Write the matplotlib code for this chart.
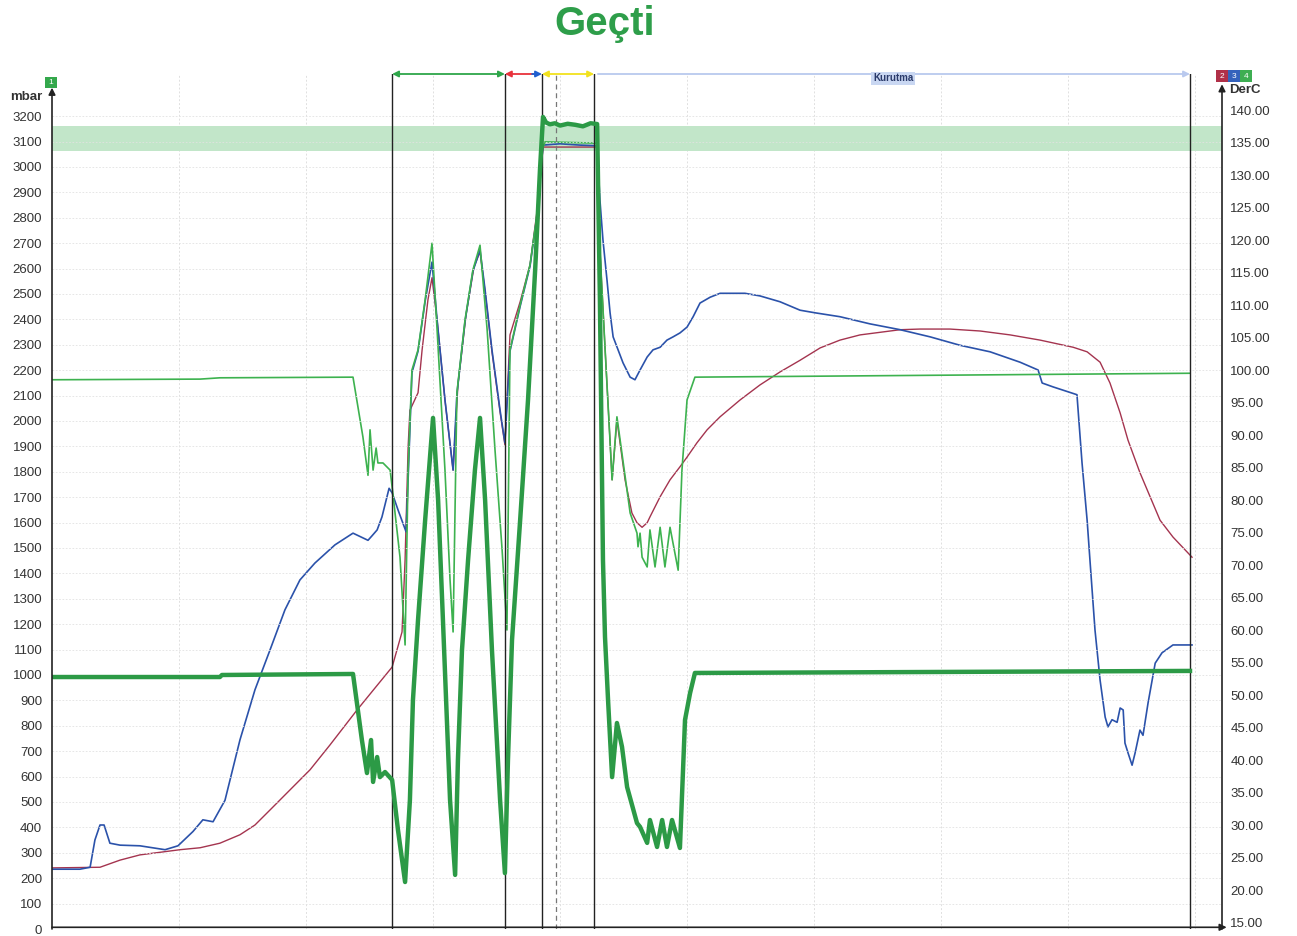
import matplotlib
matplotlib.use('Agg')
import matplotlib.pyplot as plt
import matplotlib.transforms as mtransforms
from matplotlib.patches import Rectangle
import numpy as np

plt.rcParams['font.family'] = ['Liberation Sans', 'DejaVu Sans']

# time in minutes, channel 1 pressure (mbar), channels 2-4 temperature (DerC)
pressure_1 = [(0.0, 992), (6.61, 992), (6.69, 1000), (11.85, 1004), (12.20, 744), (12.40, 614),
              (12.56, 744), (12.64, 579), (12.80, 677), (12.91, 598), (13.11, 618), (13.39, 587),
              (13.62, 390), (13.90, 185), (14.09, 508), (14.21, 902), (14.41, 1217), (14.69, 1610),
              (15.00, 2012), (15.20, 1689), (15.39, 1217), (15.67, 508), (15.87, 213), (15.98, 665),
              (16.14, 1098), (16.38, 1453), (16.65, 1807), (16.85, 2012), (17.05, 1689), (17.32, 1098),
              (17.64, 508), (17.83, 220), (17.95, 665), (18.11, 1138), (18.43, 1610), (18.74, 2083),
              (19.02, 2594), (19.21, 2988), (19.33, 3197), (19.45, 3175), (19.60, 3168), (19.80, 3172),
              (20.00, 3163), (20.30, 3170), (20.60, 3166), (20.90, 3160), (21.20, 3172), (21.46, 3169),
              (21.57, 2476), (21.69, 1453), (21.77, 1150), (21.89, 902), (22.05, 598), (22.24, 811),
              (22.44, 717), (22.64, 559), (23.03, 417), (23.15, 402), (23.43, 339), (23.54, 429),
              (23.82, 323), (24.02, 429), (24.21, 323), (24.41, 429), (24.72, 319), (24.92, 823),
              (25.12, 929), (25.31, 1008), (44.80, 1016)]

temp_2 = [(0.0, 23.4), (1.89, 23.5), (2.68, 24.6), (3.46, 25.4), (4.25, 25.8), (5.04, 26.2),
          (5.83, 26.5), (6.61, 27.2), (7.40, 28.5), (7.99, 30.0), (8.58, 32.3), (9.37, 35.4),
          (10.16, 38.5), (10.94, 42.3), (12.01, 47.7), (12.72, 51.1), (13.39, 54.3), (13.78, 59.7),
          (13.90, 70.8), (14.02, 88.2), (14.09, 93.8), (14.41, 96.5), (14.57, 103.1), (14.80, 110.8),
          (14.96, 114.2), (15.16, 107.7), (15.47, 95.4), (15.79, 84.6), (15.98, 97.7), (16.30, 108.5),
          (16.61, 115.8), (16.85, 118.2), (17.05, 112.0), (17.32, 102.8), (17.64, 93.5), (17.83, 88.5),
          (18.03, 105.4), (18.43, 110.5), (18.82, 116.2), (19.09, 124.3), (19.33, 134.3), (21.46, 134.3),
          (21.57, 118.5), (21.77, 103.5), (22.05, 83.1), (22.24, 92.3), (22.56, 83.1), (22.83, 78.0),
          (23.03, 76.5), (23.23, 75.8), (23.43, 76.5), (23.54, 77.4), (23.94, 80.5), (24.33, 83.1),
          (24.72, 85.1), (25.00, 86.6), (25.39, 88.8), (25.79, 90.8), (26.30, 92.8), (27.09, 95.4),
          (27.87, 97.7), (28.66, 99.7), (29.45, 101.5), (30.24, 103.4), (31.02, 104.6), (31.81, 105.4),
          (32.60, 105.8), (33.39, 106.2), (34.17, 106.3), (35.35, 106.3), (36.54, 106.0), (37.72, 105.4),
          (38.90, 104.6), (40.20, 103.5), (40.75, 102.8), (41.26, 101.2), (41.65, 98.0), (42.05, 93.4),
          (42.36, 89.2), (42.83, 84.2), (43.23, 80.5), (43.62, 76.9), (44.13, 74.3), (44.88, 71.2)]

temp_3 = [(0.0, 23.2), (1.10, 23.2), (1.50, 23.5), (1.69, 27.7), (1.89, 30.0), (2.05, 30.0),
          (2.28, 27.2), (2.68, 26.9), (3.46, 26.8), (4.45, 26.2), (4.96, 26.8), (5.55, 29.0),
          (5.94, 30.8), (6.34, 30.5), (6.81, 33.8), (7.40, 43.1), (7.99, 50.8), (8.58, 56.9),
          (9.17, 63.1), (9.76, 67.7), (10.35, 70.3), (11.14, 73.1), (11.85, 74.9), (12.44, 73.8),
          (12.60, 74.5), (12.80, 75.4), (12.99, 77.4), (13.27, 81.8), (13.39, 81.1), (13.62, 78.5),
          (13.94, 75.1), (14.03, 84.3), (14.17, 99.6), (14.41, 102.9), (14.69, 110.6), (14.96, 116.6),
          (15.16, 107.7), (15.47, 95.4), (15.79, 84.6), (15.94, 96.3), (16.26, 107.5), (16.57, 115.2),
          (16.85, 118.5), (17.05, 112.3), (17.32, 103.1), (17.64, 93.8), (17.83, 88.8), (18.03, 102.9),
          (18.43, 109.8), (18.82, 116.0), (19.09, 123.6), (19.33, 134.6), (20.00, 134.8), (20.79, 134.6),
          (21.46, 134.5), (21.57, 126.2), (21.69, 120.0), (21.85, 113.8), (21.97, 108.8), (22.09, 105.1),
          (22.48, 101.1), (22.76, 98.9), (22.95, 98.5), (23.15, 100.0), (23.43, 102.0), (23.66, 103.1),
          (23.94, 103.5), (24.21, 104.6), (24.45, 105.1), (24.72, 105.7), (25.00, 106.6), (25.24, 108.2),
          (25.51, 110.3), (25.91, 111.2), (26.30, 111.8), (27.28, 111.8), (27.87, 111.4), (28.66, 110.5),
          (29.45, 109.2), (30.04, 108.8), (31.02, 108.2), (32.20, 107.1), (33.39, 106.2), (34.57, 105.1),
          (35.75, 103.8), (36.93, 102.8), (38.11, 101.2), (38.82, 100.0), (38.98, 98.0), (39.41, 97.4),
          (40.35, 96.2), (40.55, 85.7), (40.75, 76.9), (40.87, 70.3), (41.06, 60.0), (41.26, 52.3),
          (41.46, 46.6), (41.57, 45.1), (41.73, 46.2), (41.93, 45.8), (42.05, 48.0), (42.17, 47.7),
          (42.24, 42.6), (42.36, 41.1), (42.52, 39.2), (42.64, 41.1), (42.83, 44.6), (42.95, 43.8),
          (43.15, 48.8), (43.43, 54.9), (43.70, 56.5), (44.13, 57.7), (44.88, 57.7)]

temp_4 = [(0.0, 98.5), (5.83, 98.6), (6.61, 98.8), (11.85, 98.9), (12.24, 89.7), (12.44, 83.8),
          (12.52, 90.8), (12.64, 84.6), (12.76, 88.0), (12.83, 85.7), (13.03, 85.7), (13.31, 84.6),
          (13.39, 82.0), (13.70, 71.2), (13.90, 57.7), (14.02, 84.6), (14.17, 100.0), (14.41, 103.1),
          (14.69, 110.8), (14.96, 119.5), (15.16, 106.2), (15.47, 84.6), (15.67, 67.7), (15.79, 59.7),
          (15.94, 96.5), (16.26, 107.7), (16.57, 115.4), (16.85, 119.2), (17.13, 106.2), (17.44, 87.7),
          (17.72, 72.3), (17.91, 60.0), (18.03, 103.1), (18.43, 110.0), (18.82, 116.2), (19.09, 123.8),
          (19.29, 133.8), (19.41, 135.1), (21.46, 134.9), (21.57, 118.5), (21.77, 103.5), (22.05, 83.1),
          (22.24, 92.8), (22.76, 78.0), (23.03, 74.9), (23.07, 72.8), (23.15, 74.9), (23.23, 71.2),
          (23.43, 69.7), (23.54, 75.4), (23.74, 69.7), (23.94, 75.8), (24.13, 69.7), (24.33, 75.8),
          (24.65, 69.2), (24.80, 84.6), (25.00, 95.4), (25.31, 98.9), (44.80, 99.5)]

# phase boundaries (minutes) and labels
phase_lines = [13.39, 17.83, 19.29, 21.34, 44.80]
hold_mark = 19.84
phase_label = 'Kurutma'
band_low, band_high = 133.7, 137.6

press_ticks = list(range(0, 3300, 100))
temp_ticks = list(range(15, 145, 5))

C_THICK = '#2c9a46'
C_THIN = '#3db24f'
C_BLUE = '#2b52aa'
C_RED = '#a4344f'
TXT = '#333333'

W, H = 1297, 936
fig = plt.figure(figsize=(W / 100, H / 100), dpi=100)
fig.patch.set_facecolor('white')


def fx(px):
    return px / W


def fy(py):
    return 1 - py / H


ax2 = fig.add_axes([fx(52), fy(929), (1222 - 52) / W, (929 - 74) / H])
ax = ax2.twinx()
ax.yaxis.tick_left()
ax2.yaxis.tick_right()
ax.set_zorder(ax2.get_zorder() + 1)
ax.patch.set_visible(False)

ax.set_xlim(0, 46.06)
ax.set_ylim(0, 3366)
ax2.set_ylim(14.0, 145.54)

for a in (ax, ax2):
    for s in a.spines.values():
        s.set_visible(False)
    a.set_xticks([])
    a.tick_params(length=0, labelsize=9.5, colors=TXT)

ax.set_yticks(press_ticks)
ax.set_yticklabels([str(v) for v in press_ticks])
ax.tick_params(axis='y', pad=7)
ax2.set_yticks(temp_ticks)
ax2.set_yticklabels(['%.2f' % v for v in temp_ticks])
ax2.tick_params(axis='y', pad=6)

# faint grid
for v in press_ticks[1:]:
    ax.axhline(v, color='#e2e2e2', lw=0.6, ls=(0, (2, 2)), zorder=0)
for v in np.arange(5, 46, 5):
    ax2.axvline(v, color='#e0e0e0', lw=0.7, ls=(0, (2, 2)), zorder=0)

# sterilisation band
ax2.axhspan(band_low, band_high, color='#c2e6c9', lw=0, zorder=1)

# series
t, v = zip(*temp_2)
ax2.plot(t, v, color=C_RED, lw=1.0, zorder=3)
t, v = zip(*temp_3)
ax2.plot(t, v, color=C_BLUE, lw=1.2, zorder=4)
t, v = zip(*temp_4)
ax2.plot(t, v, color=C_THIN, lw=1.2, zorder=5)
t, v = zip(*pressure_1)
ax.plot(t, v, color=C_THICK, lw=3.2, zorder=3, solid_joinstyle='round')

# phase lines
for x in phase_lines:
    ax.axvline(x, ymin=0, ymax=1, color='#222222', lw=1.0, zorder=2)
ax.axvline(hold_mark, ymin=0, ymax=1, color='#777777', lw=0.9, ls=(0, (4, 3)), zorder=2)

# phase arrows along the top
trans = mtransforms.blended_transform_factory(ax.transData, ax.transAxes)


def phase_arrow(x0, x1, color, style):
    ax.annotate('', xy=(x1, 1.0), xytext=(x0, 1.0), xycoords=trans, textcoords=trans,
                arrowprops=dict(arrowstyle=style, color=color, lw=1.3, mutation_scale=9,
                                shrinkA=0, shrinkB=0), annotation_clip=False)


phase_arrow(phase_lines[0], phase_lines[1], '#2ea64a', '<|-|>')
phase_arrow(phase_lines[1], 19.05, '#e8323c', '<|-')
phase_arrow(18.90, phase_lines[2], '#1f5fd0', '-|>')
phase_arrow(phase_lines[2], phase_lines[3], '#f2e21e', '<|-|>')
phase_arrow(phase_lines[3] + 0.15, phase_lines[4], '#b9c9ee', '-|>')
ax.text(33.11, 0.995, phase_label, transform=trans, ha='center', va='center', fontsize=7,
        fontweight='bold', color='#2a3a6a',
        bbox=dict(boxstyle='square,pad=0.15', fc='#c9d7f2', ec='none'))

# axis lines with arrows
def axis_arrow(x0, y0, x1, y1):
    ax.annotate('', xy=(x1, y1), xytext=(x0, y0), xycoords='axes fraction',
                textcoords='axes fraction',
                arrowprops=dict(arrowstyle='-|>', color='#222222', lw=1.2, mutation_scale=10,
                                shrinkA=0, shrinkB=0), annotation_clip=False)


axis_arrow(0, 0, 0, 0.984)
axis_arrow(1, 0, 1, 0.988)
axis_arrow(0, 0.002, 1.004, 0.002)

# axis titles
fig.text(fx(10), fy(97), 'mbar', fontsize=9.5, fontweight='bold', color=TXT, va='center')
fig.text(fx(1229), fy(90), 'DerC', fontsize=9.5, fontweight='bold', color=TXT, va='center')

# channel boxes
def channel_box(x, y, w, h, color, label):
    fig.add_artist(Rectangle((fx(x), fy(y + h)), w / W, h / H, transform=fig.transFigure,
                             facecolor=color, edgecolor='none'))
    fig.text(fx(x + w / 2), fy(y + h / 2), label, fontsize=6, color='white', ha='center',
             va='center')


channel_box(45, 77, 12, 11, '#34a84c', '1')
channel_box(1216, 70, 12, 12, '#b03048', '2')
channel_box(1228, 70, 12, 12, '#3462bc', '3')
channel_box(1240, 70, 12, 12, '#3eae52', '4')

fig.text(fx(605), fy(24), 'Geçti', fontsize=29, fontweight='bold', color='#2e9e4a',
         ha='center', va='center')

fig.savefig('out.png', dpi=100, facecolor='white')
